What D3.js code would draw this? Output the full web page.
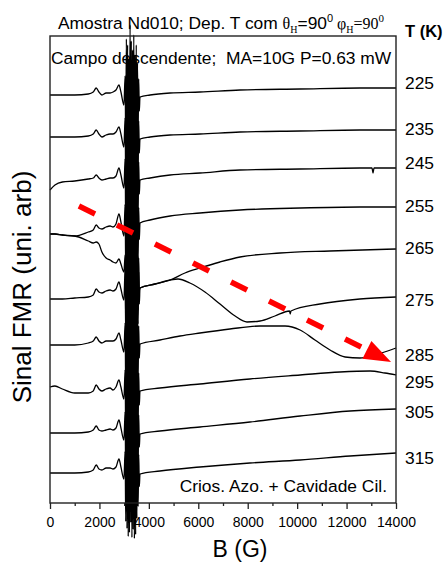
<!DOCTYPE html>
<html>
<head>
<meta charset="utf-8">
<script src="https://cdn.jsdelivr.net/npm/d3@7"></script>
<style>
  body { margin: 0; background: #fff; }
  svg { display: block; }
  text { font-family: "Liberation Sans", Arial, sans-serif; fill: #000; }
</style>
</head>
<body>
<svg id="chart" width="445" height="565"></svg>
<script>
// FMR spectra (derivative signal, arbitrary units, vertically offset) vs field B (G)
const temperatures = [225, 235, 245, 255, 265, 275, 285, 295, 305, 315];

// Low-field part of each spectrum, sampled on a common field grid (G)
const lowField = [0, 200, 500, 1000, 1550, 1750, 1870, 1980, 2100, 2270, 2430, 2550, 2670, 2790, 2870, 2990];
const lowSignal = [
  [40.8, 40.8, 40.8, 40.8, 40.9, 41.1, 41.5, 41.1, 40.8, 41.0, 41.0, 41.1, 41.3, 41.8, 41.1, 39.8],
  [36.6, 36.6, 36.6, 36.6, 36.7, 36.9, 37.3, 36.9, 36.6, 36.8, 36.9, 36.9, 37.1, 37.6, 36.9, 35.6],
  [31.3, 31.8, 32.1, 32.2, 32.4, 32.5, 32.8, 32.5, 32.3, 32.4, 32.5, 32.5, 32.7, 33.5, 32.8, 31.5],
  [26.9, 26.9, 26.8, 26.7, 27.1, 27.3, 27.8, 27.5, 27.4, 27.6, 27.7, 27.6, 27.9, 28.9, 28.1, 26.7],
  [26.9, 26.9, 26.8, 26.7, 26.2, 26.0, 26.1, 25.9, 25.1, 24.5, 24.3, 24.1, 24.0, 24.4, 23.9, 23.1],
  [20.4, 20.4, 20.4, 20.5, 20.6, 20.8, 21.4, 21.1, 21.0, 21.2, 21.3, 21.2, 21.4, 22.1, 21.4, 20.3],
  [15.8, 15.8, 15.8, 15.8, 16.0, 16.2, 16.6, 16.2, 16.0, 16.2, 16.2, 16.2, 16.4, 17.0, 16.3, 15.1],
  [11.6, 11.7, 11.4, 11.0, 11.0, 11.2, 11.8, 11.4, 11.2, 11.4, 11.5, 11.3, 11.6, 12.3, 11.6, 10.4],
  [7.0, 7.0, 7.0, 7.0, 7.1, 7.3, 7.7, 7.3, 7.2, 7.3, 7.4, 7.3, 7.5, 8.3, 7.5, 6.3],
  [3.0, 3.0, 3.0, 3.0, 3.1, 3.3, 3.8, 3.4, 3.3, 3.5, 3.5, 3.4, 3.6, 4.4, 3.6, 2.4]
];

// Saturated region around g = 2 (3000-3600 G): recorded swing about each trace level
const bandField = [3040, 3065, 3090, 3115, 3140, 3165, 3190, 3215, 3240, 3265, 3290, 3315,
                   3340, 3365, 3390, 3415, 3440, 3465, 3490, 3515, 3540, 3565, 3590, 3615];
const bandSwing = [2.5, -4.5, 6.2, -5.2, 5.6, -6.0, 4.2, -5.6, 7.6, -4.6, 6.0, -6.1,
                   5.1, -5.3, 6.6, -6.2, 4.6, -5.8, 5.6, -4.2, 3.8, -3.0, 2.2, -1.0];

// High-field part of each spectrum: field (G) and signal
const highField = [
  [3640, 4050, 4860, 6070, 7690, 10120, 12540, 14000],
  [3640, 4050, 4860, 6070, 7690, 10120, 12540, 14000],
  [3640, 4050, 4860, 6070, 7690, 10120, 12540, 13030, 13070, 13110, 14000],
  [3640, 4050, 4860, 6070, 7690, 10120, 12540, 14000],
  [3640, 4250, 4860, 5460, 6070, 6880, 7690, 9310, 11330, 14000],
  [3640, 4250, 4860, 5180, 5660, 6270, 6880, 7490, 7970, 8500, 9100, 9690, 9720, 9750, 10920, 12540, 14000],
  [3640, 4450, 5260, 6070, 7280, 8500, 9510, 10120, 10720, 11330, 11940, 12540, 13150, 14000],
  [3640, 4450, 6070, 8090, 10120, 11730, 12950, 13550, 14000],
  [3640, 4450, 6070, 8090, 10120, 12140, 14000],
  [3640, 4450, 6070, 8090, 10120, 12140, 14000]
];
const highSignal = [
  [40.6, 40.8, 41.0, 41.1, 41.3, 41.4, 41.5, 41.5],
  [36.4, 36.6, 36.8, 36.9, 37.1, 37.2, 37.3, 37.3],
  [32.3, 32.5, 32.8, 33.0, 33.3, 33.4, 33.5, 33.5, 33.0, 33.5, 33.5],
  [28.0, 28.3, 28.7, 29.0, 29.3, 29.5, 29.6, 29.6],
  [21.5, 21.9, 22.3, 23.0, 23.5, 24.1, 24.6, 25.0, 25.2, 25.4],
  [21.5, 21.9, 22.3, 22.4, 22.0, 21.1, 19.9, 18.7, 18.1, 18.2, 18.7, 19.2, 18.9, 19.2, 19.9, 20.4, 20.6],
  [15.9, 16.3, 16.7, 17.0, 17.4, 17.7, 17.7, 17.3, 16.3, 15.3, 14.6, 14.5, 14.8, 15.5],
  [11.2, 11.5, 11.9, 12.4, 12.8, 13.1, 13.2, 13.0, 12.8],
  [6.9, 7.2, 7.6, 8.1, 8.7, 9.2, 9.4],
  [2.9, 3.2, 3.6, 4.0, 4.3, 4.7, 5.0]
];

// Signal level at which each temperature label sits
const labelLevel = [42.0, 37.4, 34.05, 29.7, 25.55, 20.3, 14.85, 12.1, 9.1, 4.55];

// Trend arrow (field G, signal)
const arrowFrom = [1170, 29.7];
const arrowTo = [13800, 14.1];

const xTicks = [0, 2000, 4000, 6000, 8000, 10000, 12000, 14000];
const xMinorTicks = [1000, 3000, 5000, 7000, 9000, 11000, 13000];

const svg = d3.select("#chart");
const L = 50, R = 396, T = 36, B = 503;

const x = d3.scaleLinear().domain([0, 14000]).range([L, R]);
const y = d3.scaleLinear().domain([0, 46.7]).range([B, T]);

// Assemble each spectrum
const traces = temperatures.map((t, i) => {
  const pts = lowField.map((f, j) => [f, lowSignal[i][j]]);
  const base = (lowSignal[i][lowSignal[i].length - 1] + highSignal[i][0]) / 2;
  bandField.forEach((f, j) => pts.push([f, base + bandSwing[j]]));
  highField[i].forEach((f, j) => pts.push([f, highSignal[i][j]]));
  return pts;
});

const line = d3.line()
  .x(d => x(d[0]))
  .y(d => y(d[1]))
  .curve(d3.curveMonotoneX);

svg.append("g")
  .selectAll("path")
  .data(traces)
  .join("path")
  .attr("d", line)
  .attr("fill", "none")
  .attr("stroke", "#000")
  .attr("stroke-width", 1.3);

// Frame
svg.append("rect")
  .attr("x", L).attr("y", T)
  .attr("width", R - L).attr("height", B - T)
  .attr("fill", "none")
  .attr("stroke", "#222")
  .attr("stroke-width", 1.4);

// Bottom axis
const xAxis = d3.axisBottom(x)
  .tickValues(xTicks)
  .tickSize(6)
  .tickFormat(d3.format("d"));
const gx = svg.append("g")
  .attr("transform", `translate(0,${B})`)
  .call(xAxis);
gx.select(".domain").remove();
gx.selectAll(".tick line").attr("stroke", "#222").attr("stroke-width", 1.3);
gx.selectAll(".tick text")
  .attr("font-family", "Liberation Sans, Arial, sans-serif")
  .attr("font-size", 14)
  .attr("dy", "1.05em")
  .attr("fill", "#000");

const gxm = svg.append("g")
  .attr("transform", `translate(0,${B})`)
  .call(d3.axisBottom(x).tickValues(xMinorTicks).tickSize(3).tickFormat(""));
gxm.select(".domain").remove();
gxm.selectAll(".tick line").attr("stroke", "#222").attr("stroke-width", 1.3);

// Trend arrow
const a0 = [x(arrowFrom[0]), y(arrowFrom[1])];
const a1 = [x(arrowTo[0]), y(arrowTo[1])];
const dx = a1[0] - a0[0], dy = a1[1] - a0[1];
const len = Math.hypot(dx, dy);
const ux = dx / len, uy = dy / len;
const headLen = 27, headHalf = 10;
const hb = [a1[0] - ux * headLen, a1[1] - uy * headLen];
svg.append("line")
  .attr("x1", a0[0]).attr("y1", a0[1])
  .attr("x2", hb[0] + ux * 4).attr("y2", hb[1] + uy * 4)
  .attr("stroke", "#ff0000")
  .attr("stroke-width", 5.5)
  .attr("stroke-dasharray", "18,24.5");
svg.append("polygon")
  .attr("points", [
    a1,
    [hb[0] - uy * headHalf, hb[1] + ux * headHalf],
    [hb[0] + uy * headHalf, hb[1] - ux * headHalf]
  ].map(p => p.join(",")).join(" "))
  .attr("fill", "#ff0000");

// Temperature labels
svg.append("g")
  .selectAll("text")
  .data(temperatures)
  .join("text")
  .attr("x", 405)
  .attr("y", (d, i) => y(labelLevel[i]))
  .attr("dy", "0.36em")
  .attr("font-size", 17.4)
  .text(d => d);

svg.append("text")
  .attr("x", 405).attr("y", 37)
  .attr("font-size", 16.5)
  .attr("font-weight", "bold")
  .text("T (K)");

// Title with symbols
const title = svg.append("text")
  .attr("x", 58).attr("y", 29)
  .attr("font-size", 17.4);
title.append("tspan").text("Amostra Nd010; Dep. T com ");
title.append("tspan").attr("font-family", "Liberation Serif, serif").attr("font-size", 16).text("θ");
title.append("tspan").attr("font-family", "Liberation Serif, serif").attr("font-size", 10).attr("dy", 4).text("H");
title.append("tspan").attr("dy", -4).text("=90");
title.append("tspan").attr("font-size", 11).attr("dy", -7).text("0");
title.append("tspan").attr("font-family", "Liberation Serif, serif").attr("font-size", 16).attr("dy", 7).text(" φ");
title.append("tspan").attr("font-family", "Liberation Serif, serif").attr("font-size", 10).attr("dy", 4).text("H");
title.append("tspan").attr("font-family", "Liberation Serif, serif").attr("font-size", 16).attr("dy", -4).text("=90");
title.append("tspan").attr("font-family", "Liberation Serif, serif").attr("font-size", 11).attr("dy", -7).text("0");

svg.append("text")
  .attr("x", 51).attr("y", 64)
  .attr("font-size", 17.4)
  .attr("xml:space", "preserve")
  .style("white-space", "pre")
  .text("Campo descendente;  MA=10G P=0.63 mW");

svg.append("text")
  .attr("x", 387).attr("y", 492)
  .attr("text-anchor", "end")
  .attr("font-size", 17.4)
  .text("Crios. Azo. + Cavidade Cil.");

// Axis titles
svg.append("text")
  .attr("x", (L + R) / 2 + 17).attr("y", 557)
  .attr("text-anchor", "middle")
  .attr("font-size", 23)
  .text("B (G)");

svg.append("text")
  .attr("transform", `translate(31,287) rotate(-90)`)
  .attr("text-anchor", "middle")
  .attr("font-size", 26)
  .text("Sinal FMR (uni. arb)");
</script>
</body>
</html>
